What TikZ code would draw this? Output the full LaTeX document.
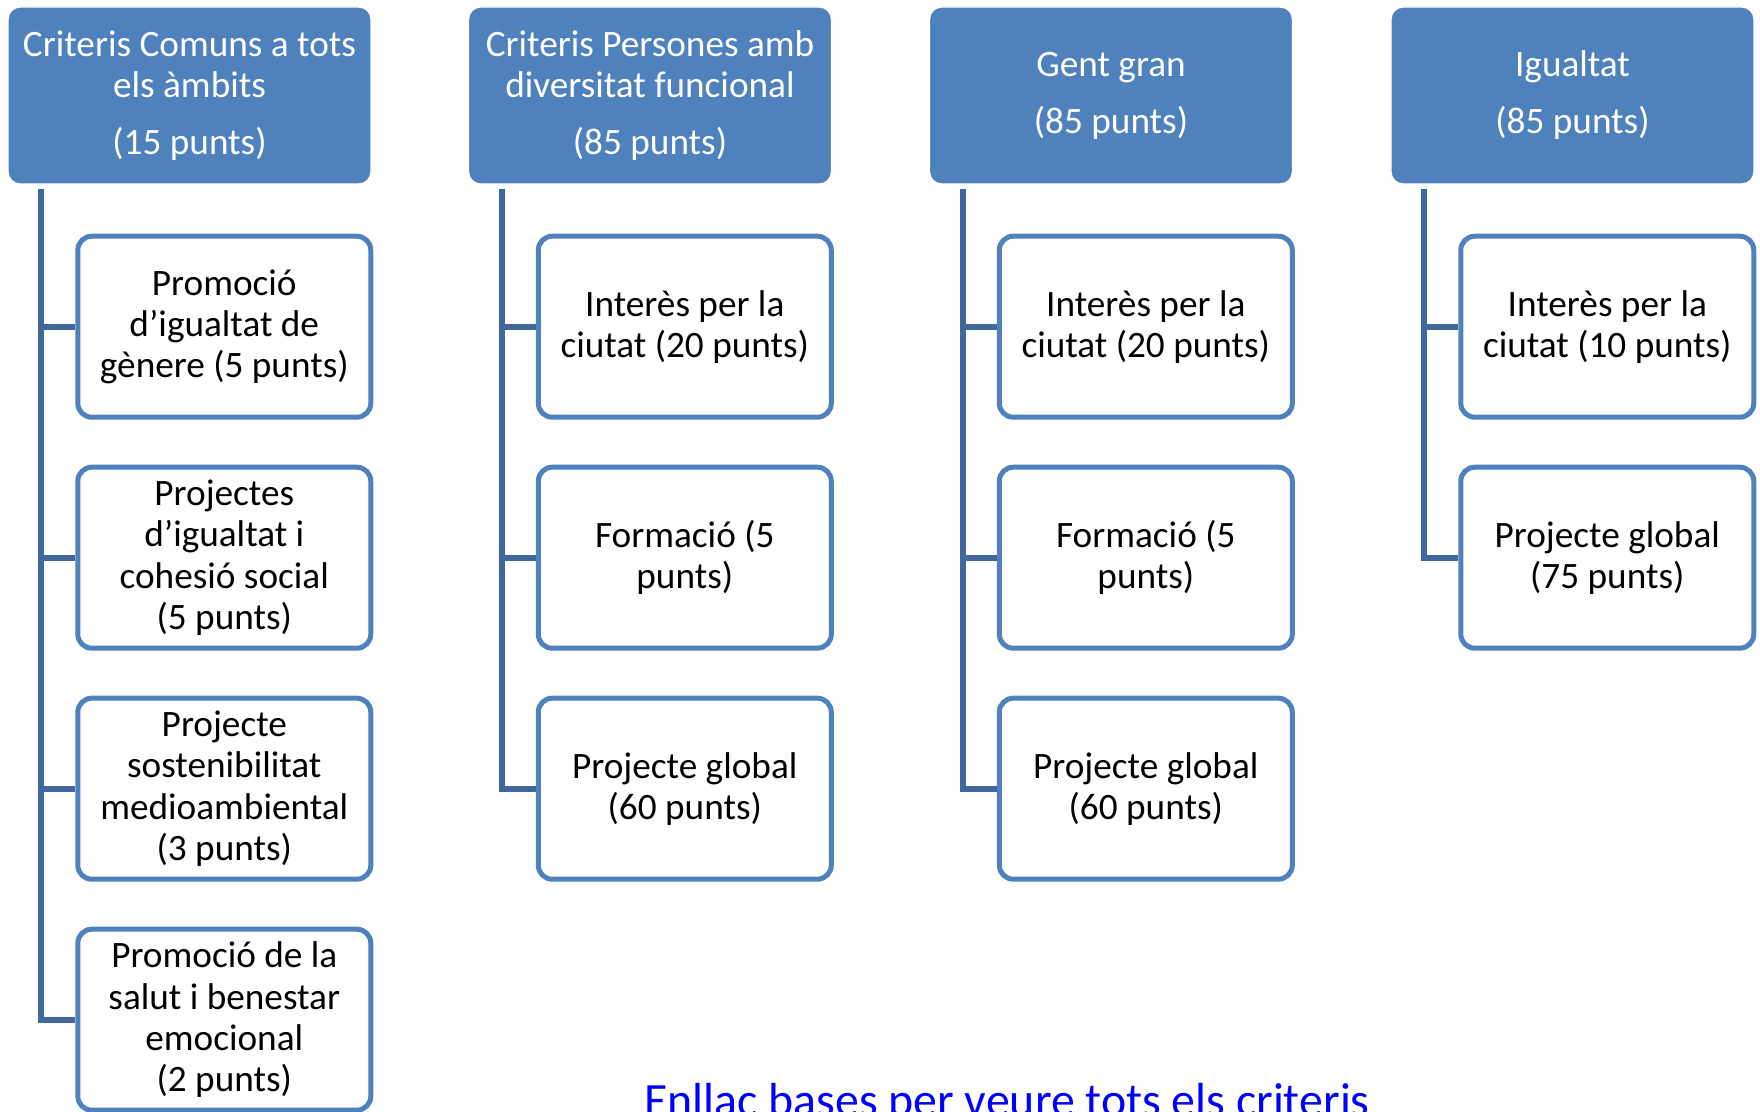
\documentclass[tikz,border=0pt]{standalone}
\usepackage{fontspec}
\setmainfont{Carlito}
\usetikzlibrary{positioning}
\definecolor{blau}{RGB}{79,129,189}
\definecolor{fosc}{RGB}{65,104,156}
\definecolor{enllac}{RGB}{0,0,255}
\tikzset{
  hd/.style={rectangle, rounded corners=1.2mm, minimum width=3.63cm, minimum height=1.77cm, align=center, fill=blau, draw=white, text=white, inner sep=0pt, font=\fontsize{10.6}{11.7}\selectfont},
  sb/.style={rectangle, rounded corners=1.4mm, minimum width=2.93cm, minimum height=1.81cm, align=center, draw=blau, line width=0.5mm, fill=white, inner sep=0pt, font=\fontsize{10.6}{11.7}\selectfont},
  br/.style={draw=fosc, line width=0.6mm},
  node distance=4.5mm
}
\begin{document}
\begin{tikzpicture}
	\useasboundingbox (0,0) rectangle (17.6,-11.12);
	% capcaleres
	\node[hd] (hd1) at (1.895,-0.955) {Criteris Comuns a tots\\ els àmbits\\[4.5pt] (15 punts)};
	\node[hd] (hd2) at (6.50,-0.955) {Criteris Persones amb\\ diversitat funcional\\[4.5pt] (85 punts)};
	\node[hd] (hd3) at (11.11,-0.955) {Gent gran\\[4.5pt] (85 punts)};
	\node[hd] (hd4) at (15.725,-0.955) {Igualtat\\[4.5pt] (85 punts)};
	% criteris comuns
	\node[sb, below right=4.9mm and 6.8mm of hd1.south west] (c11) {Promoció\\ d’igualtat de\\ gènere (5 punts)};
	\node[sb, below=of c11] (c12) {Projectes\\ d’igualtat i\\ cohesió social\\ (5 punts)};
	\node[sb, below=of c12] (c13) {Projecte\\ sostenibilitat\\ medioambiental\\ (3 punts)};
	\node[sb, below=of c13] (c14) {Promoció de la\\ salut i benestar\\ emocional\\ (2 punts)};
	% diversitat funcional
	\node[sb, below right=4.9mm and 6.8mm of hd2.south west] (c21) {Interès per la\\ ciutat (20 punts)};
	\node[sb, below=of c21] (c22) {Formació (5\\ punts)};
	\node[sb, below=of c22] (c23) {Projecte global\\ (60 punts)};
	% gent gran
	\node[sb, below right=4.9mm and 6.8mm of hd3.south west] (c31) {Interès per la\\ ciutat (20 punts)};
	\node[sb, below=of c31] (c32) {Formació (5\\ punts)};
	\node[sb, below=of c32] (c33) {Projecte global\\ (60 punts)};
	% igualtat
	\node[sb, below right=4.9mm and 6.8mm of hd4.south west] (c41) {Interès per la\\ ciutat (10 punts)};
	\node[sb, below=of c41] (c42) {Projecte global\\ (75 punts)};
	% branques
	\draw[br] ([xshift=3.4mm,yshift=-0.4mm]hd1.south west) coordinate (t1) |- (c14.west);
	\draw[br] ([xshift=3.4mm,yshift=-0.4mm]hd2.south west) coordinate (t2) |- (c23.west);
	\draw[br] ([xshift=3.4mm,yshift=-0.4mm]hd3.south west) coordinate (t3) |- (c33.west);
	\draw[br] ([xshift=3.4mm,yshift=-0.4mm]hd4.south west) coordinate (t4) |- (c42.west);
	\foreach \t/\c in {t1/c11,t1/c12,t1/c13,t2/c21,t2/c22,t3/c31,t3/c32,t4/c41}
		\draw[br] (\t |- \c.west) -- (\c.west);
	\node[text=enllac, anchor=base, font=\fontsize{13.6}{16}\selectfont] (lnk) at (10.07,-11.16) {Enllaç bases per veure tots els criteris};
\end{tikzpicture}
\end{document}
